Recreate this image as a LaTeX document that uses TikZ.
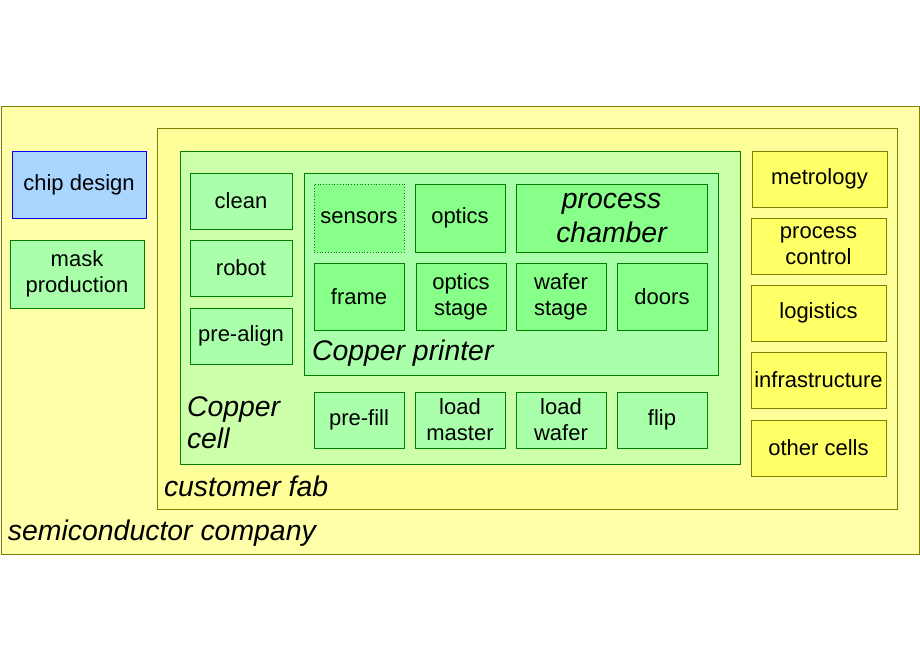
\documentclass[tikz,border=0pt]{standalone}
\usepackage{fontspec}
\setmainfont{Liberation Sans}
\definecolor{compfill}{HTML}{FFFFAA}
\definecolor{fabfill}{HTML}{FFFF99}
\definecolor{cellfill}{HTML}{CCFFAA}
\definecolor{lgreen}{HTML}{AAFFAA}
\definecolor{mgreen}{HTML}{88FF88}
\definecolor{ybox}{HTML}{FFFF66}
\definecolor{bluefill}{HTML}{AAD5FF}
\definecolor{olive}{HTML}{808000}
\definecolor{dgreen}{HTML}{008000}
\begin{document}
\begin{tikzpicture}[x=1pt,y=-1pt,
  every node/.style={inner sep=0pt, outer sep=0pt, align=center, font=\fontsize{22}{26}\selectfont},
  bx/.style={draw, line width=0.8pt, anchor=north west},
  gbox/.style={bx, draw=dgreen, fill=lgreen},
  pbox/.style={bx, draw=dgreen, fill=mgreen},
  ybx/.style={bx, draw=olive, fill=ybox},
  lbl/.style={anchor=base west, align=left, font=\fontsize{28.4}{32}\selectfont\itshape}]
\useasboundingbox (0,0) rectangle (920,660);
% containers
\node[bx, draw=olive, fill=compfill, minimum width=918pt, minimum height=448pt] (company) at (1,106) {};
\node[bx, draw=olive, fill=fabfill, minimum width=740pt, minimum height=381pt] (fab) at (157,128) {};
\node[bx, draw=dgreen, fill=cellfill, minimum width=560pt, minimum height=313pt] (cell) at (180,151) {};
\node[bx, draw=dgreen, fill=lgreen, minimum width=414pt, minimum height=202pt] (printer) at (304,173) {};
% labels
\node[lbl] (companylbl) at (8,540) {semiconductor company};
\node[lbl] (fablbl) at (164,496) {customer fab};
\node[lbl] (celllbl) at (187,448) {Copper\\cell};
\node[lbl] (printerlbl) at (312,360) {Copper printer};
% left
\node[bx, draw=blue, fill=bluefill, minimum width=134pt, minimum height=67pt] (chip) at (12,151) {chip design};
\node[gbox, minimum width=134pt, minimum height=68pt] (mask) at (10,240) {mask\\production};
% cell left column
\node[gbox, minimum width=102pt, minimum height=56pt] (clean) at (190,173) {clean};
\node[gbox, minimum width=102pt, minimum height=56pt] (robot) at (190,240) {robot};
\node[gbox, minimum width=102pt, minimum height=56pt] (prealign) at (190,308) {pre-align};
% printer
\node[pbox, dotted, minimum width=90pt, minimum height=68pt] (sensors) at (314,184) {sensors};
\node[pbox, minimum width=90pt, minimum height=68pt] (optics) at (415,184) {optics};
\node[pbox, minimum width=191pt, minimum height=68pt, font=\fontsize{28.4}{34}\selectfont\itshape] (chamber) at (516,184) {process\\chamber};
\node[pbox, minimum width=90pt, minimum height=67pt] (frame) at (314,263) {frame};
\node[pbox, minimum width=90pt, minimum height=67pt] (opticsstage) at (416,263) {optics\\stage};
\node[pbox, minimum width=90pt, minimum height=67pt] (waferstage) at (516,263) {wafer\\stage};
\node[pbox, minimum width=90pt, minimum height=67pt] (doors) at (617,263) {doors};
% bottom row
\node[gbox, minimum width=90pt, minimum height=56pt] (prefill) at (314,392) {pre-fill};
\node[gbox, minimum width=90pt, minimum height=56pt] (loadmaster) at (415,392) {load\\master};
\node[gbox, minimum width=90pt, minimum height=56pt] (loadwafer) at (516,392) {load\\wafer};
\node[gbox, minimum width=90pt, minimum height=56pt] (flip) at (617,392) {flip};
% right column
\node[ybx, minimum width=135pt, minimum height=56pt] (metrology) at (752,151) {metrology};
\node[ybx, minimum width=135pt, minimum height=56pt] (pcontrol) at (751,218) {process\\control};
\node[ybx, minimum width=135pt, minimum height=56pt] (logistics) at (751,285) {logistics};
\node[ybx, minimum width=135pt, minimum height=56pt] (infra) at (751,352) {infrastructure};
\node[ybx, minimum width=135pt, minimum height=56pt] (other) at (751,420) {other cells};
\end{tikzpicture}
\end{document}
